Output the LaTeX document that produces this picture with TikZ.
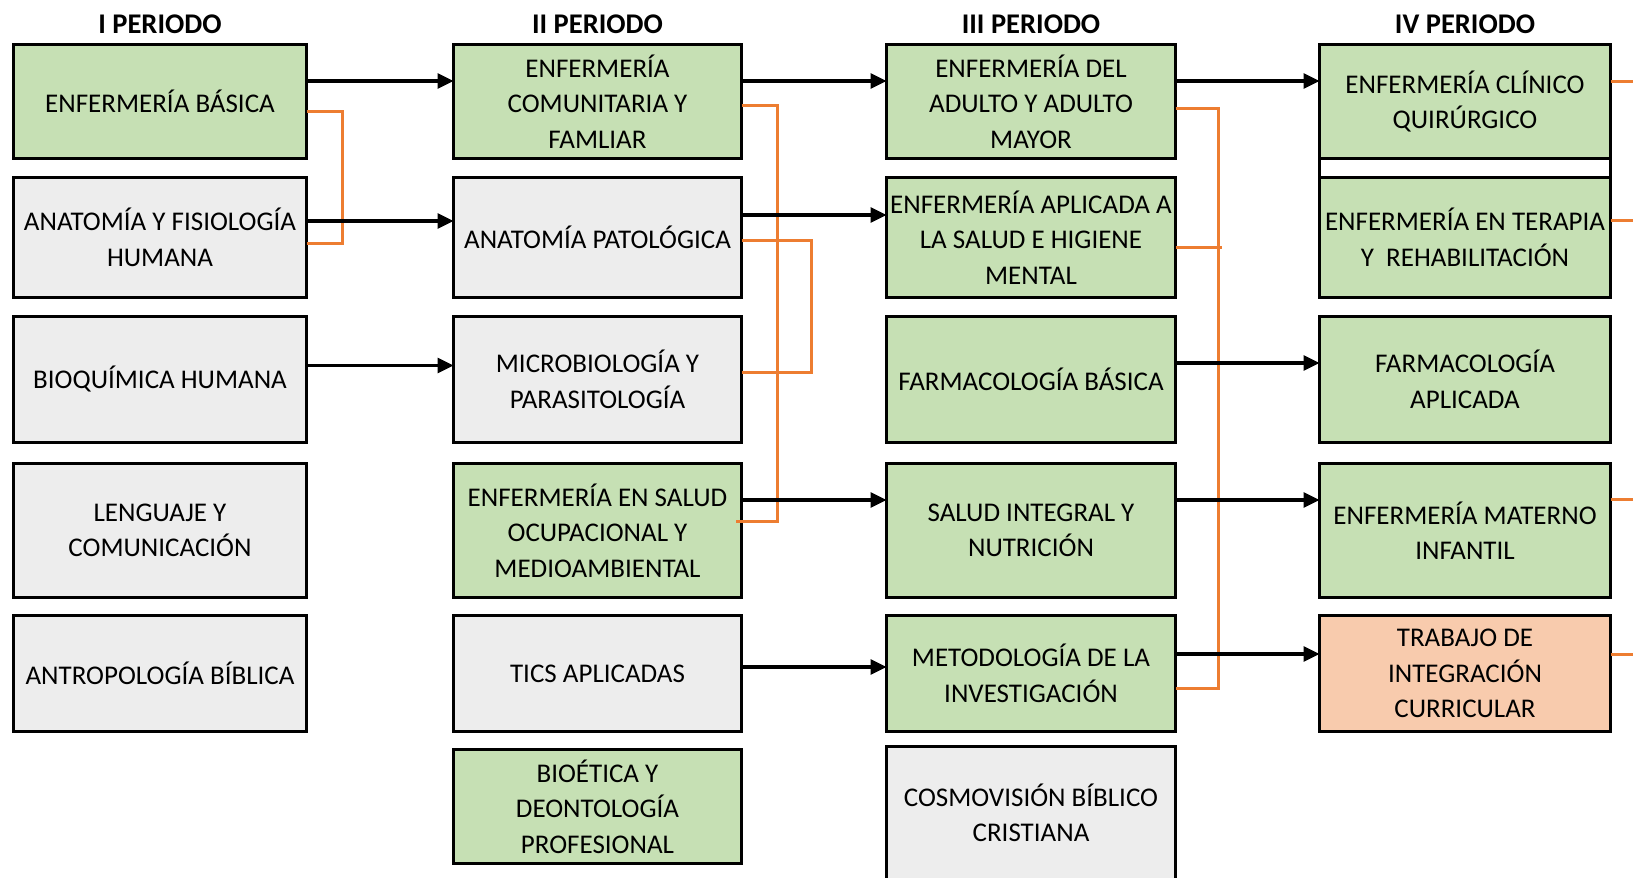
\documentclass[tikz,border=0pt]{standalone}
\usepackage{fontspec}
\setmainfont{Carlito}
\usetikzlibrary{arrows.meta}

\definecolor{verde}{HTML}{C6E0B4}
\definecolor{gris}{HTML}{EDEDED}
\definecolor{salmon}{HTML}{F8CBAD}
\definecolor{naranja}{HTML}{ED7D31}

\begin{document}
\begin{tikzpicture}[x=1pt, y=-1pt,
  curso/.style={draw, line width=3pt, inner sep=0pt, outer sep=0pt, align=center,
    font=\fontsize{27}{35.5}\selectfont},
  periodo/.style={font=\bfseries\fontsize{28.5}{30}\selectfont},
  colI/.style={minimum width=293},
  colII/.style={minimum width=288},
  colIII/.style={minimum width=289},
  colIV/.style={minimum width=291},
  prerreq/.style={line width=3.2pt, -{Triangle[length=16pt,width=15pt]}},
  enlace/.style={draw=naranja, line width=3pt}]

\useasboundingbox (0, 0) rectangle (1633, 878);

% titulos
\node[periodo] (p1) at (160, 24) {I PERIODO};
\node[periodo] (p2) at (597.5, 24) {II PERIODO};
\node[periodo] (p3) at (1031, 24) {III PERIODO};
\node[periodo] (p4) at (1465, 24) {IV PERIODO};

% I periodo
\node[curso, colI, fill=verde, minimum height=114] (c1r1) at (160, 101.5) {ENFERMERÍA BÁSICA};
\node[curso, colI, fill=gris, minimum height=120] (c1r2) at (160, 237.5) {ANATOMÍA Y FISIOLOGÍA\\HUMANA};
\node[curso, colI, fill=gris, minimum height=126] (c1r3) at (160, 379.5) {BIOQUÍMICA HUMANA};
\node[curso, colI, fill=gris, minimum height=134] (c1r4) at (160, 530.5) {LENGUAJE Y\\COMUNICACIÓN};
\node[curso, colI, fill=gris, minimum height=116] (c1r5) at (160, 673.5) {ANTROPOLOGÍA BÍBLICA};

% II periodo
\node[curso, colII, fill=verde, minimum height=114] (c2r1) at (597.5, 101.5) {ENFERMERÍA\\COMUNITARIA Y\\FAMLIAR};
\node[curso, colII, fill=gris, minimum height=120] (c2r2) at (597.5, 237.5) {ANATOMÍA PATOLÓGICA};
\node[curso, colII, fill=gris, minimum height=126] (c2r3) at (597.5, 379.5) {MICROBIOLOGÍA Y\\PARASITOLOGÍA};
\node[curso, colII, fill=verde, minimum height=134] (c2r4) at (597.5, 530.5) {ENFERMERÍA EN SALUD\\OCUPACIONAL Y\\MEDIOAMBIENTAL};
\node[curso, colII, fill=gris, minimum height=116] (c2r5) at (597.5, 673.5) {TICS APLICADAS};
\node[curso, colII, fill=verde, minimum height=114] (c2r6) at (597.5, 806.5) {BIOÉTICA Y\\DEONTOLOGÍA\\PROFESIONAL};

% III periodo
\node[curso, colIII, fill=verde, minimum height=114] (c3r1) at (1031, 101.5) {ENFERMERÍA DEL\\ADULTO Y ADULTO\\MAYOR};
\node[curso, colIII, fill=verde, minimum height=120] (c3r2) at (1031, 237.5) {ENFERMERÍA APLICADA A\\LA SALUD E HIGIENE\\MENTAL};
\node[curso, colIII, fill=verde, minimum height=126] (c3r3) at (1031, 379.5) {FARMACOLOGÍA BÁSICA};
\node[curso, colIII, fill=verde, minimum height=134] (c3r4) at (1031, 530.5) {SALUD INTEGRAL Y\\NUTRICIÓN};
\node[curso, colIII, fill=verde, minimum height=116] (c3r5) at (1031, 673.5) {METODOLOGÍA DE LA\\INVESTIGACIÓN};
\node[curso, colIII, fill=gris, minimum height=134] (c3r6) at (1031, 813) {COSMOVISIÓN BÍBLICO\\CRISTIANA};

% IV periodo
\node[curso, colIV, fill=verde, minimum height=114] (c4r1) at (1465, 101.5) {ENFERMERÍA CLÍNICO\\QUIRÚRGICO};
\node[curso, colIV, fill=verde, minimum height=120] (c4r2) at (1465, 237.5) {ENFERMERÍA EN TERAPIA\\Y~~REHABILITACIÓN};
\node[curso, colIV, fill=verde, minimum height=126] (c4r3) at (1465, 379.5) {FARMACOLOGÍA\\APLICADA};
\node[curso, colIV, fill=verde, minimum height=134] (c4r4) at (1465, 530.5) {ENFERMERÍA MATERNO\\INFANTIL};
\node[curso, colIV, fill=salmon, minimum height=116] (c4r5) at (1465, 673.5) {TRABAJO DE\\INTEGRACIÓN\\CURRICULAR};
\draw[line width=3pt] (c4r1.south west) -- (c4r2.north west) (c4r1.south east) -- (c4r2.north east);

% correquisitos
\draw[enlace] ([yshift=-9.5pt]c1r1.east) -- ++(35.5, 0) |- ([yshift=-5.5pt]c1r2.east);
\draw[enlace] ([yshift=-3.5pt]c2r1.east) -- ++(35.5, 0) |- ([xshift=-6pt, yshift=9.5pt]c2r4.east);
\draw[enlace] ([yshift=-2.5pt]c2r2.east) -- ++(69.5, 0) |- ([yshift=7.5pt]c2r3.east);
\draw[enlace] ([yshift=-6.5pt]c3r1.east) -- ++(42.5, 0) |- ([yshift=-14.5pt]c3r5.east);
\draw[enlace] ([yshift=-9.5pt]c3r2.east) -- ++(46, 0);
\draw[enlace] ([yshift=20.5pt]c4r1.east) -- ++(30, 0);
\draw[enlace] ([yshift=17.5pt]c4r2.east) -- ++(30, 0);
\draw[enlace] ([yshift=31.5pt]c4r4.east) -- ++(30, 0);
\draw[enlace] ([yshift=19.5pt]c4r5.east) -- ++(30, 0);

% prerrequisitos
\draw[prerreq] ([yshift=20.5pt]c1r1.east) -- ([yshift=20.5pt]c2r1.west);
\draw[prerreq] ([yshift=16.5pt]c1r2.east) -- ([yshift=16.5pt]c2r2.west);
\draw[prerreq] ([yshift=14pt]c1r3.east) -- ([yshift=14pt]c2r3.west);
\draw[prerreq] ([yshift=20.5pt]c2r1.east) -- ([yshift=20.5pt]c3r1.west);
\draw[prerreq] ([yshift=22.5pt]c2r2.east) -- ([yshift=22.5pt]c3r2.west);
\draw[prerreq] ([yshift=30.5pt]c2r4.east) -- ([yshift=30.5pt]c3r4.west);
\draw[prerreq] ([yshift=6.5pt]c2r5.east) -- ([yshift=6.5pt]c3r5.west);
\draw[prerreq] ([yshift=20.5pt]c3r1.east) -- ([yshift=20.5pt]c4r1.west);
\draw[prerreq] ([yshift=16.5pt]c3r3.east) -- ([yshift=16.5pt]c4r3.west);
\draw[prerreq] ([yshift=30.5pt]c3r4.east) -- ([yshift=30.5pt]c4r4.west);
\draw[prerreq] ([yshift=19.5pt]c3r5.east) -- ([yshift=19.5pt]c4r5.west);

\end{tikzpicture}
\end{document}
